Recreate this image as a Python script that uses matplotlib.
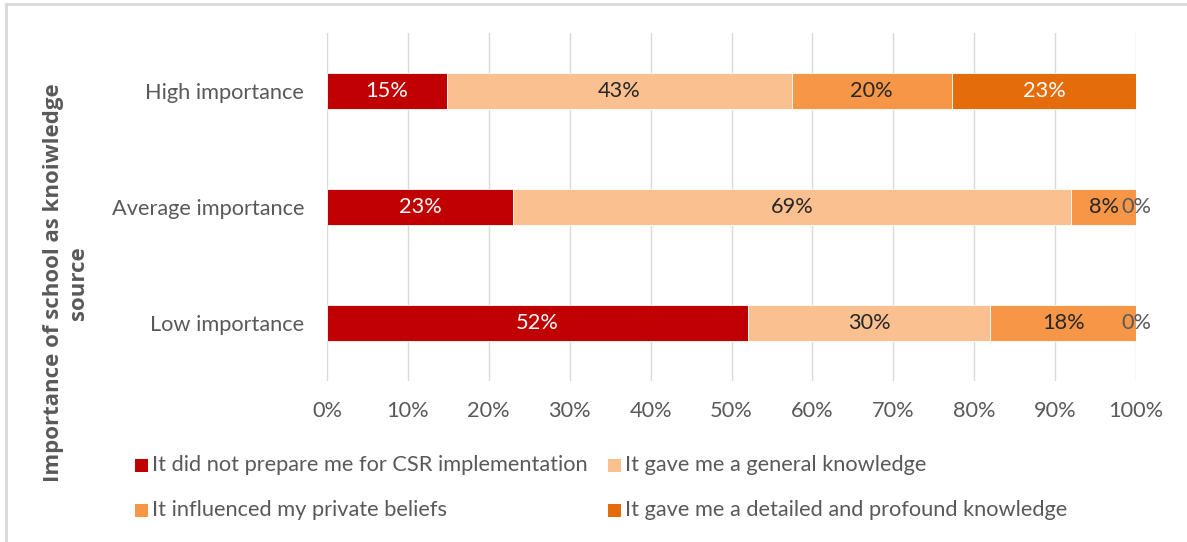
import matplotlib
matplotlib.use("Agg")
import matplotlib.pyplot as plt
from matplotlib.patches import Rectangle
from matplotlib.lines import Line2D
import numpy as np

plt.rcParams['font.family'] = ['Lato', 'DejaVu Sans']

categories = ["High importance", "Average importance", "Low importance"]
series_names = [
    "It did not prepare me for CSR implementation",
    "It gave me a general knowledge",
    "It influenced my private beliefs",
    "It gave me a detailed and profound knowledge",
]
# percentage of respondents per answer, one list per series (High, Average, Low)
not_prepared = [15, 23, 52]
general_knowledge = [43, 69, 30]
private_beliefs = [20, 8, 18]
detailed_knowledge = [23, 0, 0]
x_ticks = [0, 10, 20, 30, 40, 50, 60, 70, 80, 90, 100]

series = [not_prepared, general_knowledge, private_beliefs, detailed_knowledge]
colors = ["#C00000", "#FAC090", "#F79646", "#E46C0A"]
label_colors = ["white", "#262626", "#262626", "white"]

W, H = 1187, 542
FS = 15.7
fig = plt.figure(figsize=(W / 100, H / 100), dpi=100)

def fx(px):
    return px / W

def fy(py):
    return 1 - py / H

ax = fig.add_axes([fx(327), fy(381), fx(1136) - fx(327), (381 - 33) / H])

data = np.array(series, dtype=float)
totals = data.sum(axis=0)
shares = data / totals * 100  # 100% stacked
ypos = np.arange(len(categories))[::-1]

left = np.zeros(len(categories))
for i, name in enumerate(series_names):
    ax.barh(ypos, shares[i], left=left, height=0.31, color=colors[i],
            edgecolor="white", linewidth=0.6, zorder=3, label=name)
    for j in range(len(categories)):
        v = data[i][j]
        cx = left[j] + shares[i][j] / 2
        col = label_colors[i] if v > 0 else "#595959"
        ax.text(cx, ypos[j], f"{v:.0f}%", ha="center", va="center",
                fontsize=FS, color=col, zorder=4)
    left += shares[i]

ax.set_xlim(0, 100)
ax.set_ylim(-0.5, 2.5)
ax.set_xticks(x_ticks)
ax.set_xticklabels([f"{t}%" for t in x_ticks])
ax.set_yticks(ypos)
ax.set_yticklabels(categories)
ax.tick_params(axis="both", length=0, labelsize=FS, colors="#595959")
ax.tick_params(axis="x", pad=14.5)
ax.tick_params(axis="y", pad=16.5)
ax.grid(axis="x", color="#D9D9D9", linewidth=1, zorder=0)
for s in ax.spines.values():
    s.set_visible(False)

# y-axis title, two lines
fig.text(fx(66), fy(283), "Importance of school as knoiwledge\nsource",
         rotation=90, ha="center", va="center", fontsize=16,
         family=["Open Sans", "DejaVu Sans"],
         fontweight="bold", color="#595959", linespacing=1.2)

# legend, two columns
legend_pos = [(135, 465), (608, 465), (135, 510), (608, 510)]
for (lx, ly), name, c in zip(legend_pos, series_names, colors):
    fig.patches.append(Rectangle((fx(lx), fy(ly + 6.5)), 13 / W, 13 / H,
                                 transform=fig.transFigure, facecolor=c,
                                 edgecolor="none"))
    fig.text(fx(lx + 17), fy(ly), name, ha="left", va="center",
             fontsize=FS, color="#595959")

# chart-area frame
fig.lines.append(Line2D([fx(6), fx(6)], [fy(4), 0], transform=fig.transFigure,
                        color="#D9D9D9", linewidth=2))
fig.lines.append(Line2D([fx(6), 1], [fy(4), fy(4)], transform=fig.transFigure,
                        color="#D9D9D9", linewidth=2))

fig.savefig("out.png", dpi=100)
